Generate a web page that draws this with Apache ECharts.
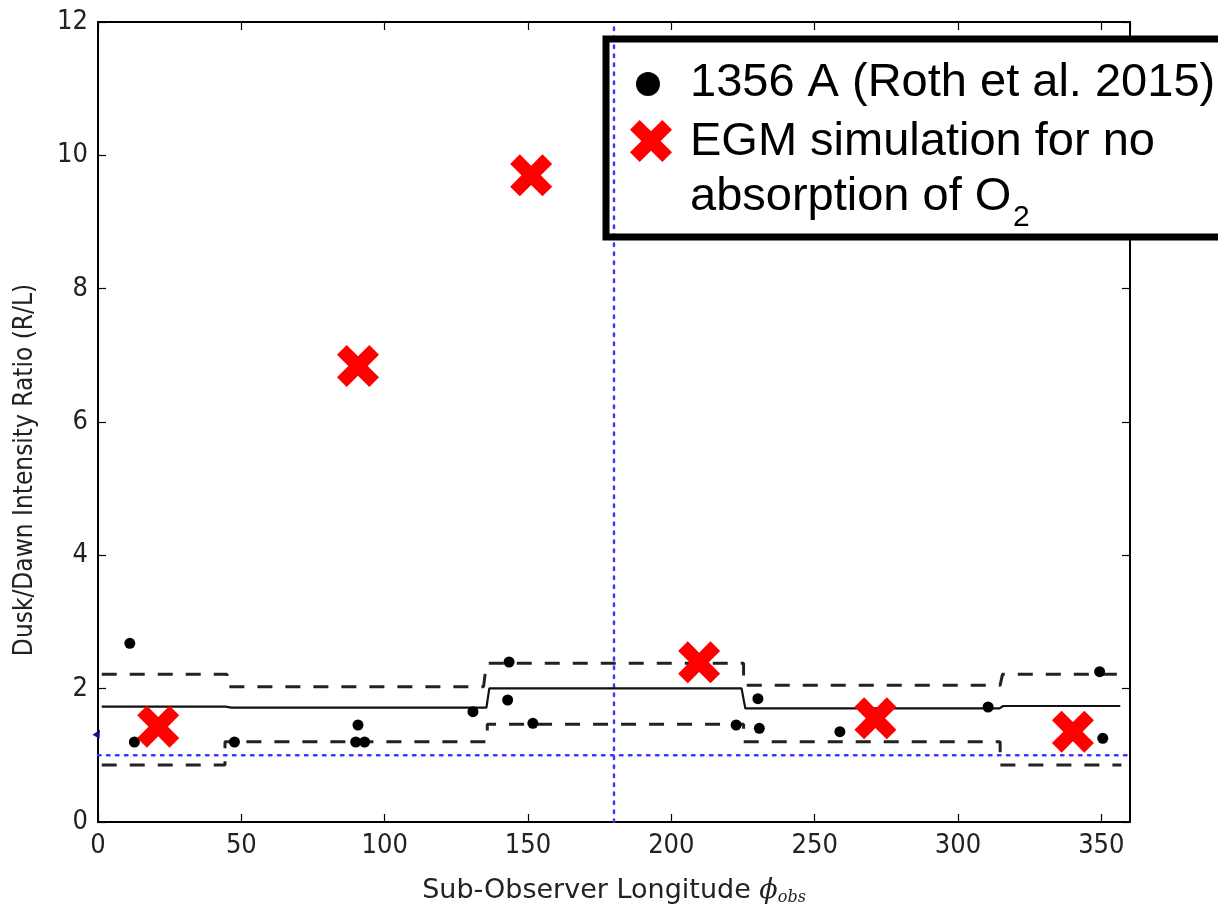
<!DOCTYPE html>
<html>
<head>
<meta charset="utf-8">
<script src="https://cdn.jsdelivr.net/npm/echarts@6/dist/echarts.min.js"></script>
<style>
html,body{margin:0;padding:0;background:#fff;}
#chart{width:1218px;height:907px;}
</style>
</head>
<body>
<div id="chart"></div>
<script>
// ---- data ----
const xTicks = [0, 50, 100, 150, 200, 250, 300, 350];
const yTicks = [0, 2, 4, 6, 8, 10, 12];
const rothLon   = [11.1, 12.7, 47.6, 89.9, 90.7, 93.0, 130.8, 143.4, 142.9, 151.7, 222.6, 230.2, 230.7, 258.8, 310.5, 349.4, 350.5];
const rothRatio = [2.68, 1.20, 1.20, 1.20, 1.455, 1.20, 1.655, 2.40, 1.83, 1.48, 1.455, 1.85, 1.405, 1.355, 1.725, 2.255, 1.255];
const egmLon   = [21.0, 90.7, 151.1, 209.7, 271.2, 340.1];
const egmRatio = [1.43, 6.84, 9.70, 2.395, 1.555, 1.355];
const meanLon   = [1.3, 44.5, 46.5, 135.5, 136.5, 224.5, 225.8, 314.5, 315.8, 356.6];
const meanRatio = [1.73, 1.73, 1.715, 1.715, 2.005, 2.005, 1.705, 1.705, 1.74, 1.74];
const upperLon   = [1.3, 45.0, 45.0, 134.5, 135.5, 225.2, 225.2, 314.7, 315.5, 360];
const upperRatio = [2.215, 2.215, 2.03, 2.03, 2.38, 2.38, 2.05, 2.05, 2.215, 2.215];
const lowerLon   = [1.3, 44.3, 44.3, 135.8, 135.8, 225.2, 225.2, 314.7, 314.7, 357];
const lowerRatio = [0.855, 0.855, 1.205, 1.205, 1.465, 1.465, 1.205, 1.205, 0.855, 0.855];
const refRatio = 1;      // horizontal dotted reference
const refLon = 180;      // vertical dotted reference
const edgeLon = [0], edgeRatio = [1.33];

const yAxisTitle = 'Dusk/Dawn Intensity Ratio (R/L)';
const legendLabels = ['1356 A (Roth et al. 2015)', 'EGM simulation for no', 'absorption of O', '2'];

const zip = (a, b) => a.map((v, i) => [v, b[i]]);
const X_PTS = [[0,23],[23,0],[50,27],[77,0],[100,23],[73,50],[100,77],[77,100],[50,73],[23,100],[0,77],[27,50]];
const X_PATH = 'path://' + X_PTS.map((p, i) => (i ? 'L' : 'M') + p[0] + ' ' + p[1]).join(' ') + ' Z';

const chart = echarts.init(document.getElementById('chart'), null, {renderer: 'canvas'});
const tickFont = 'DejaVu Sans Condensed, DejaVu Sans, sans-serif';

const axisCommon = {
  type: 'value',
  axisLine: {show: true, onZero: false, lineStyle: {color: '#000', width: 2}},
  axisTick: {show: true, inside: true, length: 8, lineStyle: {color: '#000', width: 1.2}},
  splitLine: {show: false}
};

const option = {
  animation: false,
  backgroundColor: '#fff',
  grid: {left: 98, top: 22, right: 88, bottom: 85, containLabel: false, outerBoundsMode: 'none'},
  xAxis: [
    Object.assign({}, axisCommon, {
      min: 0, max: 360, interval: 50, position: 'bottom',
      axisLabel: {show: true, color: '#222', fontFamily: tickFont, fontSize: 27, margin: 10, showMaxLabel: false,
        formatter: v => (xTicks.indexOf(v) >= 0 ? String(v) : '')},
      name: 'Sub-Observer Longitude {phi|ϕ}{sub|obs}',
      nameLocation: 'middle', nameGap: 54,
      nameTextStyle: {color: '#222', fontFamily: 'DejaVu Sans, sans-serif', fontSize: 27,
        rich: {
          phi: {fontFamily: 'DejaVu Serif, serif', fontStyle: 'italic', fontSize: 27, color: '#222'},
          sub: {fontFamily: 'DejaVu Serif, serif', fontStyle: 'italic', fontSize: 16, color: '#222', padding: [14, 0, 0, 0]}
        }}
    }),
    Object.assign({}, axisCommon, {
      min: 0, max: 360, interval: 50, position: 'top',
      axisLabel: {show: false}
    })
  ],
  yAxis: [
    Object.assign({}, axisCommon, {
      min: 0, max: 12, interval: 2, position: 'left',
      axisLabel: {show: true, color: '#222', fontFamily: tickFont, fontSize: 27, margin: 10,
        formatter: v => (yTicks.indexOf(v) >= 0 ? String(v) : '')}
    }),
    Object.assign({}, axisCommon, {
      min: 0, max: 12, interval: 2, position: 'right',
      axisLabel: {show: false}
    })
  ],
  series: [
    {type: 'line', name: 'hline', data: [[0, refRatio], [360, refRatio]], showSymbol: false, symbol: 'none', z: 3,
      lineStyle: {color: '#3a3aff', width: 2.5, type: [2.5, 6.5], cap: 'round'}},
    {type: 'line', name: 'vline', data: [[refLon, 0], [refLon, 12]], showSymbol: false, symbol: 'none', z: 3,
      lineStyle: {color: '#3a3aff', width: 2.5, type: [2.5, 6.5], cap: 'round'}},
    {type: 'line', name: 'mean', data: zip(meanLon, meanRatio), showSymbol: false, symbol: 'none', z: 4,
      lineStyle: {color: '#111', width: 2.2}},
    {type: 'line', name: 'upper', data: zip(upperLon, upperRatio), showSymbol: false, symbol: 'none', z: 4,
      lineStyle: {color: '#222', width: 3, type: [15, 13]}},
    {type: 'line', name: 'lower', data: zip(lowerLon, lowerRatio), showSymbol: false, symbol: 'none', z: 4,
      lineStyle: {color: '#222', width: 3, type: [15, 13]}},
    {type: 'scatter', name: 'edge', data: zip(edgeLon, edgeRatio), symbol: 'triangle', symbolSize: 8, symbolRotate: -30, z: 5,
      itemStyle: {color: '#10108a', opacity: 1}},
    {type: 'scatter', name: '1356 A (Roth et al. 2015)', data: zip(rothLon, rothRatio), symbol: 'circle', symbolSize: 11, z: 6,
      itemStyle: {color: '#000', opacity: 1}},
    {type: 'scatter', name: 'EGM simulation for no absorption of O2', data: zip(egmLon, egmRatio), symbol: X_PATH, symbolSize: 42, z: 7,
      itemStyle: {color: '#ff0000', opacity: 1}}
  ],
  graphic: [
    {type: 'text', z: 50, x: 25, y: 470, rotation: Math.PI / 2,
      style: {text: yAxisTitle, font: '26px "DejaVu Sans Condensed", "DejaVu Sans", sans-serif', fill: '#222', align: 'center', verticalAlign: 'middle'}, silent: true},
    {type: 'rect', z: 1, shape: {x: 606, y: 39, width: 700, height: 198}, style: {fill: '#fff'}, silent: true},
    {type: 'rect', z: 100, shape: {x: 606, y: 39, width: 700, height: 198}, style: {fill: null, stroke: '#000', lineWidth: 7}, silent: true},
    {type: 'circle', z: 101, shape: {cx: 648, cy: 84, r: 12}, style: {fill: '#000'}, silent: true},
    {type: 'polygon', z: 101, shape: {points: X_PTS.map(p => [630 + p[0] * 0.42, 120 + p[1] * 0.42])},
      style: {fill: '#ff0000'}, silent: true},
    {type: 'text', z: 101, x: 690, y: 82.7, style: {text: legendLabels[0], font: '47px "Liberation Sans", Arial, sans-serif', fill: '#000', verticalAlign: 'middle'}, silent: true},
    {type: 'text', z: 101, x: 690, y: 141.7, style: {text: legendLabels[1], font: '47px "Liberation Sans", Arial, sans-serif', fill: '#000', verticalAlign: 'middle'}, silent: true},
    {type: 'text', z: 101, x: 690, y: 196.7, style: {text: legendLabels[2], font: '47px "Liberation Sans", Arial, sans-serif', fill: '#000', verticalAlign: 'middle'}, silent: true},
    {type: 'text', z: 101, x: 1013, y: 217.6, style: {text: legendLabels[3], font: '30px "Liberation Sans", Arial, sans-serif', fill: '#000', verticalAlign: 'middle'}, silent: true}
  ]
};
chart.setOption(option);
</script>
</body>
</html>
